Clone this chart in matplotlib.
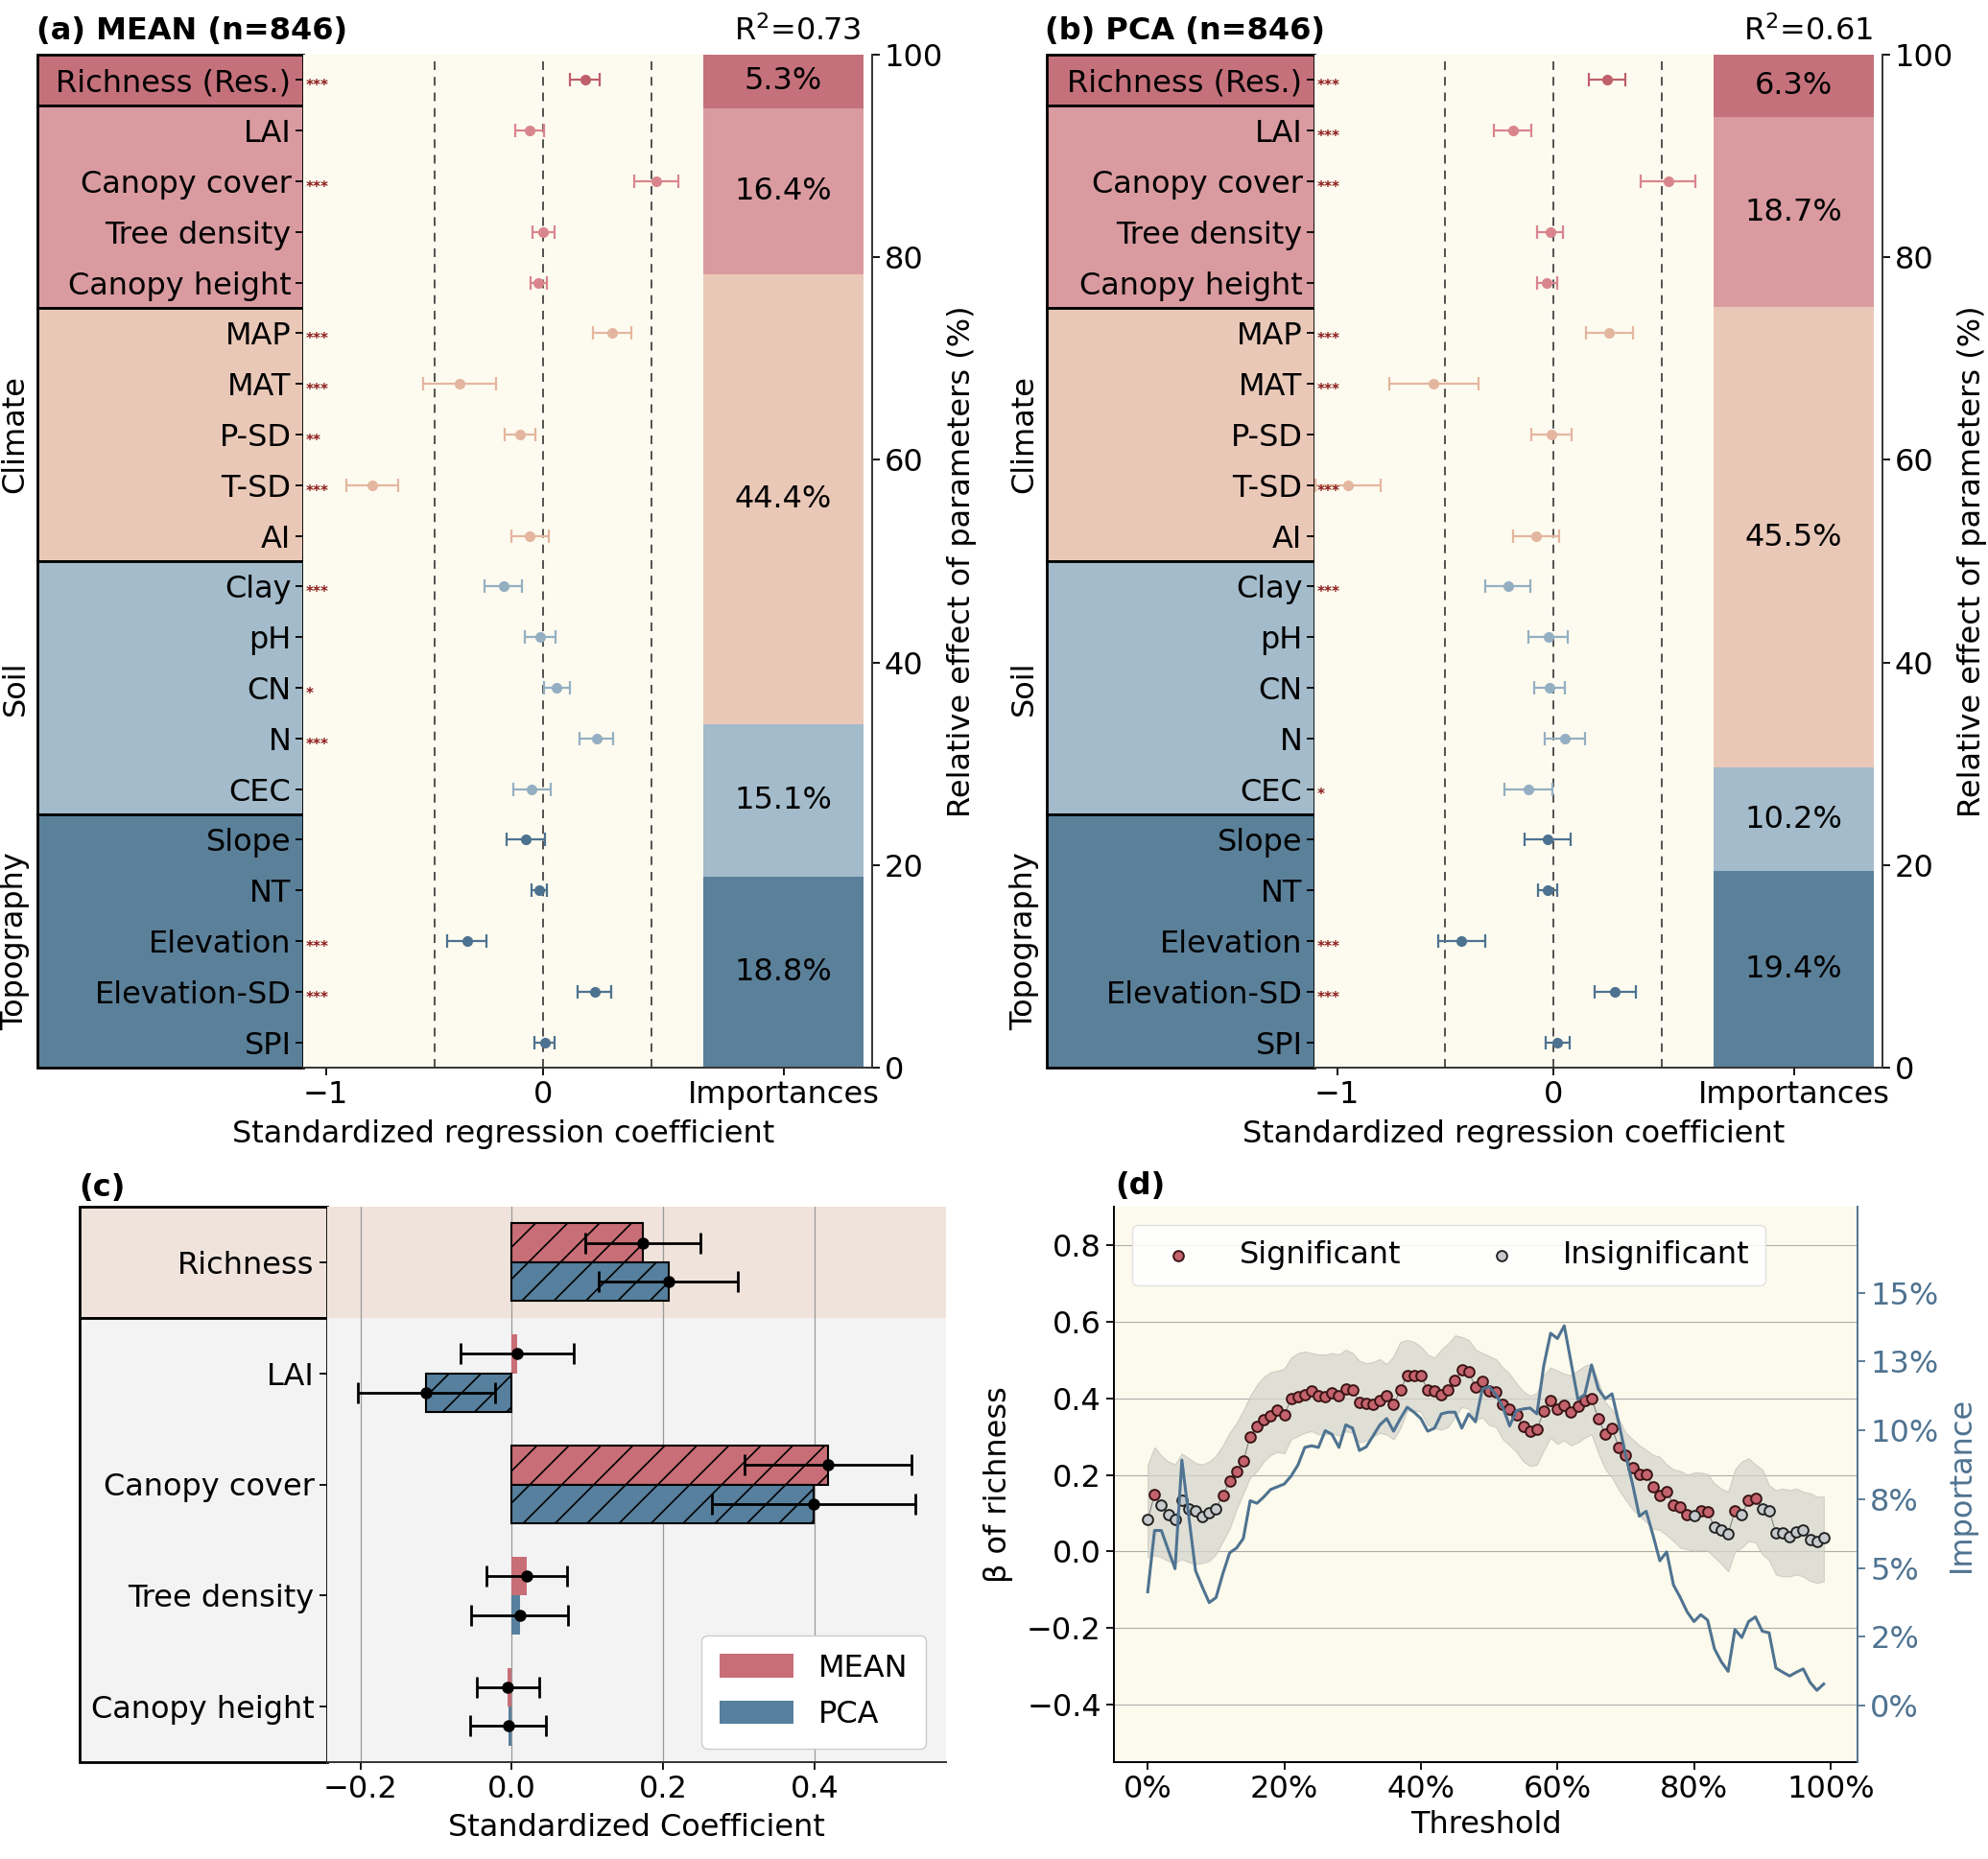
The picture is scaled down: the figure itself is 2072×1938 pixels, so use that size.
import matplotlib
matplotlib.use('Agg')
import matplotlib.pyplot as plt
from matplotlib.patches import Rectangle, Patch
import matplotlib.transforms as mtransforms

plt.rcParams['font.family'] = ['DejaVu Sans']
plt.rcParams['font.size'] = 23
plt.rcParams['hatch.linewidth'] = 1.2
plt.rcParams['axes.linewidth'] = 1.4

# ---------------- data: panels (a) and (b) ----------------
variables = ['Richness (Res.)', 'LAI', 'Canopy cover', 'Tree density', 'Canopy height',
             'MAP', 'MAT', 'P-SD', 'T-SD', 'AI',
             'Clay', 'pH', 'CN', 'N', 'CEC',
             'Slope', 'NT', 'Elevation', 'Elevation-SD', 'SPI']
var_group = [0, 1, 1, 1, 1, 2, 2, 2, 2, 2, 3, 3, 3, 3, 3, 4, 4, 4, 4, 4]
group_titles = ['', '', 'Climate', 'Soil', 'Topography']

mean_coef = [0.194, -0.059, 0.524, 0.003, -0.020, 0.320, -0.382, -0.106, -0.788, -0.059,
             -0.182, -0.012, 0.065, 0.247, -0.050, -0.079, -0.018, -0.350, 0.238, 0.009]
mean_err = [0.070, 0.066, 0.103, 0.052, 0.038, 0.090, 0.168, 0.072, 0.120, 0.085,
            0.085, 0.072, 0.060, 0.078, 0.088, 0.088, 0.035, 0.091, 0.078, 0.046]
mean_sig = ['***', '', '***', '', '', '***', '***', '**', '***', '',
            '***', '', '*', '***', '', '', '', '***', '***', '']
mean_importance = [5.3, 16.4, 44.4, 15.1, 18.8]

pca_coef = [0.249, -0.188, 0.531, -0.015, -0.030, 0.258, -0.554, -0.009, -0.950, -0.079,
            -0.211, -0.023, -0.018, 0.053, -0.114, -0.026, -0.026, -0.425, 0.284, 0.018]
pca_err = [0.085, 0.087, 0.126, 0.059, 0.045, 0.110, 0.207, 0.092, 0.150, 0.106,
           0.104, 0.091, 0.070, 0.092, 0.111, 0.107, 0.045, 0.110, 0.095, 0.055]
pca_sig = ['***', '***', '***', '', '', '***', '***', '', '***', '',
           '***', '', '', '', '*', '', '', '***', '***', '']
pca_importance = [6.3, 18.7, 45.5, 10.2, 19.4]

# ---------------- data: panel (c) ----------------
c_vars = ['Richness', 'LAI', 'Canopy cover', 'Tree density', 'Canopy height']
c_mean = [0.173, 0.0075, 0.418, 0.0196, -0.0053]
c_mean_err = [0.076, 0.075, 0.110, 0.053, 0.041]
c_pca = [0.207, -0.113, 0.399, 0.0106, -0.0045]
c_pca_err = [0.092, 0.091, 0.134, 0.064, 0.050]
c_mean_sig = [1, 0, 1, 0, 0]
c_pca_sig = [1, 1, 1, 0, 0]

# ---------------- data: panel (d) ----------------
thresholds = list(range(100))
beta = [0.083, 0.148, 0.121, 0.096, 0.083, 0.133, 0.110, 0.106, 0.092, 0.100,
        0.112, 0.147, 0.185, 0.208, 0.236, 0.300, 0.327, 0.345, 0.353, 0.368,
        0.357, 0.398, 0.404, 0.410, 0.418, 0.406, 0.403, 0.414, 0.407, 0.425,
        0.422, 0.389, 0.386, 0.383, 0.393, 0.407, 0.383, 0.421, 0.460, 0.460,
        0.458, 0.422, 0.418, 0.410, 0.422, 0.447, 0.474, 0.470, 0.428, 0.443,
        0.420, 0.417, 0.383, 0.372, 0.356, 0.327, 0.314, 0.318, 0.366, 0.395,
        0.372, 0.381, 0.364, 0.378, 0.393, 0.399, 0.347, 0.306, 0.322, 0.271,
        0.252, 0.218, 0.202, 0.202, 0.168, 0.145, 0.157, 0.122, 0.117, 0.097,
        0.093, 0.106, 0.103, 0.064, 0.056, 0.046, 0.106, 0.097, 0.133, 0.139,
        0.110, 0.106, 0.049, 0.049, 0.039, 0.050, 0.056, 0.031, 0.025, 0.035]
beta_upper = [0.227, 0.272, 0.250, 0.235, 0.227, 0.256, 0.243, 0.231, 0.227, 0.235,
              0.250, 0.277, 0.310, 0.335, 0.368, 0.406, 0.435, 0.456, 0.468, 0.472,
              0.477, 0.506, 0.518, 0.522, 0.518, 0.514, 0.514, 0.518, 0.514, 0.527,
              0.518, 0.498, 0.491, 0.495, 0.502, 0.489, 0.510, 0.547, 0.552, 0.547,
              0.535, 0.514, 0.506, 0.527, 0.543, 0.564, 0.560, 0.552, 0.527, 0.518,
              0.510, 0.502, 0.480, 0.464, 0.439, 0.418, 0.406, 0.414, 0.460, 0.480,
              0.472, 0.464, 0.460, 0.472, 0.485, 0.489, 0.443, 0.390, 0.370, 0.345,
              0.310, 0.293, 0.277, 0.265, 0.252, 0.247, 0.227, 0.214, 0.210, 0.200,
              0.206, 0.206, 0.202, 0.177, 0.164, 0.156, 0.214, 0.235, 0.243, 0.227,
              0.214, 0.172, 0.160, 0.164, 0.160, 0.164, 0.156, 0.152, 0.143, 0.143]
beta_lower = [-0.015, -0.010, -0.015, -0.025, -0.030, -0.020, -0.028, -0.033, -0.030, -0.025,
              -0.007, 0.027, 0.060, 0.110, 0.152, 0.193, 0.210, 0.235, 0.252, 0.260,
              0.256, 0.293, 0.302, 0.310, 0.314, 0.306, 0.306, 0.310, 0.302, 0.314,
              0.310, 0.285, 0.290, 0.300, 0.310, 0.305, 0.293, 0.322, 0.368, 0.368,
              0.365, 0.330, 0.322, 0.318, 0.325, 0.352, 0.377, 0.373, 0.343, 0.350,
              0.330, 0.325, 0.293, 0.277, 0.260, 0.235, 0.223, 0.227, 0.264, 0.297,
              0.281, 0.290, 0.277, 0.285, 0.297, 0.306, 0.256, 0.215, 0.193, 0.160,
              0.135, 0.110, 0.093, 0.077, 0.060, 0.056, 0.043, 0.027, 0.010, 0.006,
              0.002, 0.003, 0.002, -0.015, -0.032, -0.052, 0.000, 0.010, 0.027, 0.024,
              -0.007, -0.023, -0.060, -0.065, -0.065, -0.060, -0.065, -0.077, -0.082, -0.078]
significant = [0, 1, 0, 0, 0, 0, 0, 0, 0, 0,
               0, 1, 1, 1, 1, 1, 1, 1, 1, 1,
               1, 1, 1, 1, 1, 1, 1, 1, 1, 1,
               1, 1, 1, 1, 1, 1, 1, 1, 1, 1,
               1, 1, 1, 1, 1, 1, 1, 1, 1, 1,
               1, 1, 1, 1, 1, 1, 1, 1, 1, 1,
               1, 1, 1, 1, 1, 1, 1, 1, 1, 1,
               1, 1, 1, 1, 1, 1, 1, 1, 1, 1,
               0, 1, 1, 0, 0, 0, 1, 0, 1, 1,
               0, 0, 0, 0, 0, 0, 0, 0, 0, 0]
importance = [4.13, 6.36, 6.36, 5.66, 4.97, 8.92, 6.90, 4.90, 4.30, 3.74,
              3.92, 4.79, 5.55, 5.72, 6.07, 7.44, 7.35, 7.58, 7.85, 7.95,
              8.05, 8.34, 8.74, 9.38, 9.44, 9.38, 9.99, 9.85, 9.38, 10.20,
              10.08, 9.27, 9.40, 9.80, 10.20, 10.43, 9.97, 10.43, 10.84, 10.66,
              10.43, 9.97, 10.08, 10.60, 10.66, 10.66, 10.08, 10.60, 10.31, 11.50,
              11.59, 11.30, 10.84, 10.16, 10.72, 10.78, 10.81, 10.60, 12.35, 13.53,
              13.34, 13.80, 12.47, 11.13, 11.30, 12.38, 11.50, 11.15, 11.33, 10.26,
              9.09, 8.05, 6.88, 7.06, 6.19, 5.26, 5.58, 4.38, 3.92, 3.40,
              3.05, 3.30, 3.10, 2.06, 1.59, 1.24, 2.76, 2.47, 3.05, 3.22,
              2.70, 2.64, 1.36, 1.21, 1.07, 1.21, 1.33, 0.84, 0.55, 0.78]

# ---------------- styles ----------------
group_colors = ['#c4717b', '#d99ba0', '#eac8b8', '#a3bbca', '#5b8099']
point_colors = ['#bf5f6b', '#d9858e', '#e4b6a0', '#94afc2', '#4d7290']
cream = '#fdfbef'
star_color = '#8b1a1a'
mean_color = '#c86e76'
pca_color = '#56809e'
imp_line_color = '#4f7391'

W, H = 2072, 1938
fig = plt.figure(figsize=(W / 100, H / 100), dpi=100)


def fx(px):
    return px / W


def fy(py):
    return 1 - py / H


def draw_coef_panel(x_lab, x_coef, x_imp, x_end, coef, err, sig, imp, title, r2, title_x, r2_x):
    top, bot = 57, 1113
    ax_lab = fig.add_axes([fx(x_lab), fy(bot), fx(x_coef - x_lab), (bot - top) / H])
    ax = fig.add_axes([fx(x_coef), fy(bot), fx(x_imp - x_coef), (bot - top) / H])
    ax_imp = fig.add_axes([fx(x_imp), fy(bot), fx(x_end - x_imp), (bot - top) / H])
    n = len(variables)
    for a in (ax_lab, ax):
        a.set_ylim(n - 0.5, -0.5)
    ax_lab.set_xlim(0, 1)
    ax_lab.axis('off')
    groups = sorted(set(var_group))
    for g in groups:
        rows = [i for i, vg in enumerate(var_group) if vg == g]
        r0, r1 = min(rows), max(rows)
        ax_lab.add_patch(Rectangle((0, r0 - 0.5), 1, r1 - r0 + 1, facecolor=group_colors[g],
                                   edgecolor='black', lw=2, clip_on=False, zorder=1))
        if group_titles[g]:
            ax_lab.text(-0.083, (r0 + r1) / 2, group_titles[g], rotation=90,
                        ha='center', va='center', fontsize=23,
                        transform=mtransforms.blended_transform_factory(ax_lab.transAxes, ax_lab.transData))
    ax.set_facecolor(cream)
    ax.set_xlim(-1.105, 0.74)
    for xv in (-0.5, 0, 0.5):
        ax.axvline(xv, color='#444444', lw=1.3, ls=(0, (5, 4)), zorder=1)
    for i in range(n):
        pc = point_colors[var_group[i]]
        ax.errorbar(coef[i], i, xerr=err[i], fmt='o', color=pc, ecolor=pc, ms=7,
                    mec=pc, capsize=5, elinewidth=1.6, capthick=1.6, zorder=3)
        if sig[i]:
            ax.text(0.006, i + 0.12, sig[i], fontsize=11, fontweight='bold', color=star_color,
                    ha='left', va='center',
                    transform=mtransforms.blended_transform_factory(ax.transAxes, ax.transData))
    ax.set_yticks(range(n))
    ax.set_yticklabels(variables, fontsize=23)
    ax.set_xticks([-1, 0])
    ax.tick_params(axis='both', length=6, width=1.3, labelsize=23)
    ax.tick_params(axis='y', pad=3)
    for s in ('top', 'right', 'left'):
        ax.spines[s].set_visible(False)
    ax.spines['bottom'].set_color('#333333')
    ax.set_xlabel('Standardized regression coefficient', fontsize=23, labelpad=7)
    ax_imp.set_xlim(0, 1)
    ax_imp.set_ylim(0, 100)
    bottom = 0
    for g in reversed(groups):
        h = imp[g]
        ax_imp.bar(0, h, width=0.95, bottom=bottom, align='edge', color=group_colors[g], lw=0)
        ax_imp.text(0.475, bottom + h / 2, f'{h}%', ha='center', va='center', fontsize=23)
        bottom += h
    ax_imp.spines['left'].set_visible(False)
    ax_imp.spines['top'].set_visible(False)
    ax_imp.spines['right'].set_color('#333333')
    ax_imp.spines['bottom'].set_color('#333333')
    ax_imp.yaxis.tick_right()
    ax_imp.yaxis.set_label_position('right')
    ax_imp.set_yticks([0, 20, 40, 60, 80, 100])
    ax_imp.set_xticks([0.475])
    ax_imp.set_xticklabels(['Importances'])
    ax_imp.tick_params(axis='both', length=6, width=1.3, labelsize=23)
    ax_imp.tick_params(axis='y', pad=3)
    ax_imp.set_ylabel('Relative effect of parameters (%)', fontsize=23, labelpad=3)
    fig.text(fx(title_x), fy(33), title, fontsize=23, fontweight='bold', ha='left', va='center')
    fig.text(fx(r2_x), fy(33), r2, fontsize=23, ha='right', va='center')


draw_coef_panel(39, 316, 733, 909, mean_coef, mean_err, mean_sig, mean_importance,
                '(a) MEAN (n=846)', r'R$^2$=0.73', 38, 898)
draw_coef_panel(1091, 1370, 1786, 1962, pca_coef, pca_err, pca_sig, pca_importance,
                '(b) PCA (n=846)', r'R$^2$=0.61', 1089, 1952)

# ---------------- panel (c) ----------------
ctop, cbot = 1258, 1837
axc_lab = fig.add_axes([fx(83), fy(cbot), fx(341 - 83), (cbot - ctop) / H])
axc = fig.add_axes([fx(341), fy(cbot), fx(986 - 341), (cbot - ctop) / H])
nc = len(c_vars)
for a in (axc_lab, axc):
    a.set_ylim(nc - 0.5, -0.5)
axc_lab.set_xlim(0, 1)
axc_lab.axis('off')
axc_lab.add_patch(Rectangle((0, -0.5), 1, 1, facecolor='#efe3db', edgecolor='black', lw=2, clip_on=False))
axc_lab.add_patch(Rectangle((0, 0.5), 1, nc - 1, facecolor='#f3f3f3', edgecolor='black', lw=2, clip_on=False))
axc.set_facecolor('#f3f3f3')
axc.axhspan(-0.5, 0.5, color='#efe3db', zorder=0, lw=0)
axc.set_xlim(-0.244, 0.574)
axc.set_xticks([-0.2, 0.0, 0.2, 0.4])
axc.set_xticklabels(['\u22120.2', '0.0', '0.2', '0.4'])
axc.grid(axis='x', color='#999999', lw=0.9, zorder=0.5)
axc.set_axisbelow(True)
bh = 0.35
for i in range(nc):
    for val, e, sgn, col, off in ((c_mean[i], c_mean_err[i], c_mean_sig[i], mean_color, -bh / 2),
                                  (c_pca[i], c_pca_err[i], c_pca_sig[i], pca_color, bh / 2)):
        if sgn:
            axc.barh(i + off, val, height=bh, color=col, edgecolor='black', lw=1.5, hatch='/', zorder=2)
        else:
            axc.barh(i + off, val, height=bh, color=col, lw=0, zorder=2)
        axc.errorbar(val, i + off, xerr=e, fmt='o', color='black', ms=8, capsize=8,
                     elinewidth=2, capthick=2, zorder=3)
axc.set_yticks(range(nc))
axc.set_yticklabels(c_vars)
axc.tick_params(axis='both', length=6, width=1.3, labelsize=23)
for s in ('top', 'right', 'left'):
    axc.spines[s].set_visible(False)
axc.spines['bottom'].set_color('#333333')
axc.set_xlabel('Standardized Coefficient', fontsize=23, labelpad=6)
axc.legend(handles=[Patch(facecolor=mean_color, label='MEAN'), Patch(facecolor=pca_color, label='PCA')],
           loc='lower right', bbox_to_anchor=(0.968, 0.025), borderaxespad=0, fontsize=23,
           handlelength=2.4, handleheight=0.8, handletextpad=0.8, labelspacing=0.55, borderpad=0.6,
           frameon=True, facecolor='white', edgecolor='#cccccc', framealpha=1)
fig.text(fx(82), fy(1238), '(c)', fontsize=23, fontweight='bold', ha='left', va='center')

# ---------------- panel (d) ----------------
axd = fig.add_axes([fx(1161), fy(cbot), fx(1936 - 1161), (cbot - ctop) / H])
axd.set_facecolor('#fcfaec')
axd.fill_between(thresholds, beta_lower, beta_upper, color='#d6d6cf', alpha=0.75,
                 edgecolor='#c4c4bc', lw=0.8, zorder=1)
axd.plot(thresholds, beta, color='#777777', lw=0.7, zorder=2)
sig_x = [t for t, s in zip(thresholds, significant) if s]
sig_y = [b for b, s in zip(beta, significant) if s]
ins_x = [t for t, s in zip(thresholds, significant) if not s]
ins_y = [b for b, s in zip(beta, significant) if not s]
axd.scatter(sig_x, sig_y, s=60, color='#c4636d', edgecolor='#3a1414', lw=1.4, zorder=3, label='Significant')
axd.scatter(ins_x, ins_y, s=60, color='#c6cacd', edgecolor='#222222', lw=1.4, zorder=3, label='Insignificant')
axd.set_xlim(-4.95, 103.95)
axd.set_ylim(-0.55, 0.9)
axd.set_yticks([-0.4, -0.2, 0.0, 0.2, 0.4, 0.6, 0.8])
axd.set_xticks([0, 20, 40, 60, 80, 100])
axd.set_xticklabels(['0%', '20%', '40%', '60%', '80%', '100%'])
axd.grid(axis='y', color='#9a9a9a', lw=0.8, alpha=0.8, zorder=0.5)
axd.set_axisbelow(True)
axd.tick_params(axis='both', length=6, width=1.3, labelsize=23)
axd.spines['top'].set_visible(False)
axd.spines['right'].set_visible(False)
axd.set_xlabel('Threshold', fontsize=23, labelpad=4)
axd.set_ylabel('\u03b2 of richness', fontsize=23, labelpad=10)
axd.legend(loc='upper left', bbox_to_anchor=(0.024, 0.967), borderaxespad=0, ncol=2, fontsize=23,
           handletextpad=1.0, columnspacing=2.3, borderpad=0.5, frameon=True,
           facecolor='white', edgecolor='#dddddd', framealpha=0.85)

axd2 = axd.twinx()
axd2.plot(thresholds, importance, color=imp_line_color, lw=2.2, zorder=4)
axd2.set_ylim(-2.06, 18.13)
axd2.set_yticks([0, 2.5, 5, 7.5, 10, 12.5, 15])
axd2.set_yticklabels(['0%', '2%', '5%', '8%', '10%', '13%', '15%'])
axd2.tick_params(axis='y', colors=imp_line_color, length=6, width=1.3, labelsize=23)
axd2.spines['right'].set_color(imp_line_color)
axd2.spines['top'].set_visible(False)
axd2.spines['left'].set_visible(False)
axd2.spines['bottom'].set_visible(False)
axd2.set_ylabel('Importance', color=imp_line_color, fontsize=23, labelpad=6)
fig.text(fx(1162), fy(1236), '(d)', fontsize=23, fontweight='bold', ha='left', va='center')

fig.savefig('out.png', dpi=100)
